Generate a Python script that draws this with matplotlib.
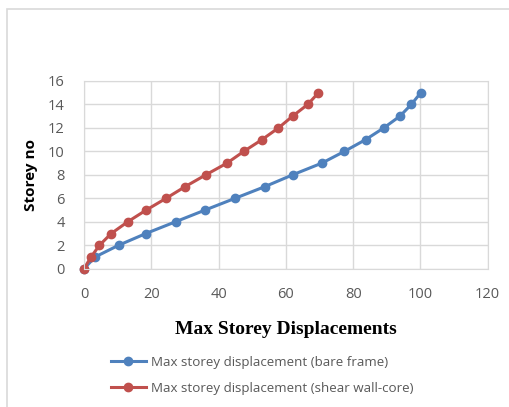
import matplotlib.pyplot as plt
from matplotlib.patches import Rectangle

storey = [0, 1, 2, 3, 4, 5, 6, 7, 8, 9, 10, 11, 12, 13, 14, 15]
bare_frame = [0, 3.3, 10.3, 18.4, 27.2, 36.0, 44.9, 53.8, 62.0, 70.7, 77.4, 83.7, 89.1, 93.9, 97.3, 100.1]
shear_wall = [0, 2.1, 4.6, 8.1, 13.0, 18.5, 24.4, 30.1, 36.2, 42.5, 47.5, 52.9, 57.8, 62.0, 66.5, 69.7]
x_ticks = [0, 20, 40, 60, 80, 100, 120]
y_ticks = [0, 2, 4, 6, 8, 10, 12, 14, 16]

blue = '#4f81bd'
red = '#c0504d'
grid_col = '#d9d9d9'
text_col = '#595959'

plt.rcParams['font.family'] = ['Open Sans', 'DejaVu Sans']

fig = plt.figure(figsize=(5.1, 4.07), dpi=100)

# light chart border, runs off the right/bottom edge
fig.patches.append(Rectangle((7 / 510, -0.1), 1.2, 1 - 9 / 407 + 0.1, transform=fig.transFigure,
                             fill=False, edgecolor=grid_col, linewidth=1.2))

ax = fig.add_axes([84 / 510, 1 - 268.7 / 407, (487.7 - 84) / 510, (268.7 - 81) / 407])

ax.plot(bare_frame, storey, color=blue, lw=2.2, marker='o', ms=6, clip_on=False,
        label='Max storey displacement (bare frame)')
ax.plot(shear_wall, storey, color=red, lw=2.2, marker='o', ms=6, clip_on=False,
        label='Max storey displacement (shear wall-core)')

ax.set_xlim(0, 120)
ax.set_ylim(0, 16)
ax.set_xticks(x_ticks)
ax.set_yticks(y_ticks)
ax.grid(True, color=grid_col, lw=1)
ax.set_axisbelow(True)
for s in ax.spines.values():
    s.set_color(grid_col)
ax.tick_params(length=0, labelcolor=text_col, labelsize=10.5)
ax.tick_params(axis='x', pad=13)
ax.tick_params(axis='y', pad=14)

ax.set_ylabel('Storey no', fontsize=11, fontweight='bold', labelpad=7)

fig.text(286 / 510, 1 - 330 / 407, 'Max Storey Displacements', ha='center', va='center',
         family='Liberation Serif', fontweight='bold', fontsize=14)

fig.legend(loc='upper left', bbox_to_anchor=(99 / 510, 1 - 344 / 407), frameon=False,
           fontsize=9.6, labelcolor=text_col, handlelength=2.6, handletextpad=0.4, labelspacing=0.95)

fig.savefig('out.png', dpi=100)
